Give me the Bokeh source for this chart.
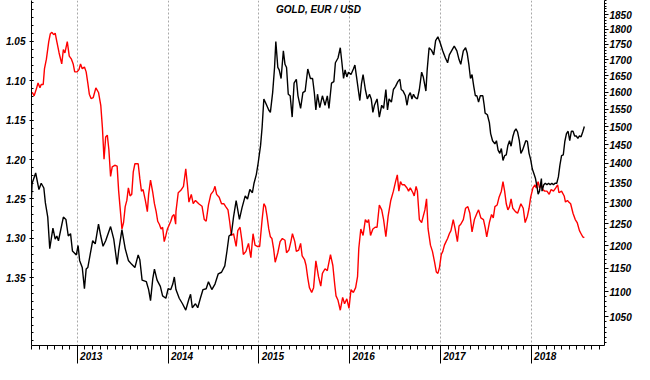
from bokeh.plotting import figure
from bokeh.models import Range1d, LinearAxis, LogScale, FixedTicker, PrintfTickFormatter, Label
from bokeh.embed import file_html
from bokeh.resources import INLINE

# EUR/USD (left axis, inverted) : (decimal year, rate)
eurusd = [
    (2012.487, 1.264), (2012.502, 1.230), (2012.541, 1.217), (2012.577, 1.238), (2012.602, 1.230),
    (2012.631, 1.236), (2012.648, 1.255), (2012.674, 1.273), (2012.696, 1.313), (2012.731, 1.287),
    (2012.756, 1.301), (2012.774, 1.297), (2012.792, 1.303), (2012.846, 1.273), (2012.874, 1.276),
    (2012.900, 1.297), (2012.925, 1.294), (2012.946, 1.316), (2012.989, 1.321), (2013.008, 1.309),
    (2013.025, 1.328), (2013.054, 1.337), (2013.078, 1.364), (2013.097, 1.339), (2013.115, 1.337),
    (2013.169, 1.303), (2013.197, 1.307), (2013.233, 1.282), (2013.258, 1.297), (2013.283, 1.310),
    (2013.312, 1.303), (2013.366, 1.285), (2013.401, 1.301), (2013.438, 1.333), (2013.455, 1.316),
    (2013.491, 1.289), (2013.527, 1.313), (2013.562, 1.328), (2013.599, 1.333), (2013.634, 1.337),
    (2013.670, 1.321), (2013.688, 1.327), (2013.713, 1.353), (2013.760, 1.355), (2013.785, 1.365),
    (2013.806, 1.379), (2013.831, 1.351), (2013.849, 1.339), (2013.878, 1.353), (2013.914, 1.361),
    (2013.939, 1.373), (2013.975, 1.376), (2014.000, 1.364), (2014.029, 1.365), (2014.051, 1.358),
    (2014.068, 1.349), (2014.086, 1.365), (2014.122, 1.376), (2014.158, 1.383), (2014.194, 1.391),
    (2014.229, 1.377), (2014.247, 1.371), (2014.266, 1.388), (2014.301, 1.383), (2014.326, 1.388),
    (2014.355, 1.376), (2014.384, 1.365), (2014.419, 1.364), (2014.444, 1.355), (2014.481, 1.365),
    (2014.516, 1.358), (2014.552, 1.345), (2014.588, 1.343), (2014.624, 1.335), (2014.648, 1.316),
    (2014.670, 1.297), (2014.696, 1.295), (2014.720, 1.273), (2014.749, 1.252), (2014.785, 1.276),
    (2014.814, 1.261), (2014.849, 1.246), (2014.874, 1.250), (2014.900, 1.238), (2014.928, 1.242),
    (2014.946, 1.230), (2014.971, 1.219), (2014.992, 1.204), (2015.018, 1.182), (2015.035, 1.159),
    (2015.054, 1.123), (2015.078, 1.129), (2015.108, 1.137), (2015.126, 1.140), (2015.151, 1.115),
    (2015.172, 1.083), (2015.186, 1.050), (2015.208, 1.083), (2015.223, 1.086), (2015.244, 1.097),
    (2015.269, 1.062), (2015.287, 1.079), (2015.304, 1.083), (2015.323, 1.117), (2015.344, 1.119),
    (2015.366, 1.146), (2015.387, 1.103), (2015.412, 1.098), (2015.430, 1.119), (2015.459, 1.135),
    (2015.484, 1.115), (2015.509, 1.113), (2015.538, 1.085), (2015.567, 1.097), (2015.591, 1.097),
    (2015.610, 1.115), (2015.627, 1.137), (2015.645, 1.117), (2015.670, 1.134), (2015.699, 1.119),
    (2015.728, 1.131), (2015.753, 1.119), (2015.771, 1.135), (2015.799, 1.103), (2015.825, 1.101),
    (2015.842, 1.077), (2015.871, 1.071), (2015.896, 1.058), (2015.914, 1.077), (2015.932, 1.097),
    (2015.949, 1.086), (2015.968, 1.095), (2015.986, 1.089), (2016.014, 1.092), (2016.040, 1.085),
    (2016.057, 1.080), (2016.075, 1.095), (2016.094, 1.111), (2016.111, 1.125), (2016.129, 1.104),
    (2016.147, 1.092), (2016.172, 1.111), (2016.194, 1.123), (2016.218, 1.117), (2016.237, 1.123),
    (2016.255, 1.140), (2016.272, 1.131), (2016.301, 1.123), (2016.326, 1.146), (2016.352, 1.131),
    (2016.373, 1.135), (2016.398, 1.111), (2016.416, 1.137), (2016.433, 1.123), (2016.459, 1.127),
    (2016.481, 1.111), (2016.505, 1.107), (2016.530, 1.101), (2016.552, 1.098), (2016.567, 1.111),
    (2016.588, 1.113), (2016.613, 1.119), (2016.631, 1.131), (2016.648, 1.119), (2016.667, 1.115),
    (2016.685, 1.123), (2016.702, 1.117), (2016.720, 1.121), (2016.745, 1.123), (2016.767, 1.111),
    (2016.792, 1.089), (2016.810, 1.095), (2016.839, 1.113), (2016.853, 1.086), (2016.874, 1.058),
    (2016.900, 1.061), (2016.925, 1.067), (2016.946, 1.049), (2016.971, 1.044), (2016.997, 1.052),
    (2017.025, 1.062), (2017.054, 1.071), (2017.078, 1.077), (2017.097, 1.067), (2017.126, 1.061),
    (2017.151, 1.056), (2017.180, 1.062), (2017.204, 1.073), (2017.223, 1.079), (2017.251, 1.062),
    (2017.276, 1.058), (2017.294, 1.065), (2017.312, 1.079), (2017.330, 1.097), (2017.347, 1.092),
    (2017.366, 1.107), (2017.384, 1.119), (2017.401, 1.119), (2017.419, 1.127), (2017.438, 1.119),
    (2017.466, 1.119), (2017.481, 1.131), (2017.491, 1.141), (2017.516, 1.143), (2017.538, 1.153),
    (2017.552, 1.167), (2017.573, 1.176), (2017.599, 1.180), (2017.616, 1.176), (2017.634, 1.188),
    (2017.653, 1.192), (2017.670, 1.186), (2017.688, 1.201), (2017.706, 1.195), (2017.724, 1.194),
    (2017.742, 1.182), (2017.760, 1.176), (2017.777, 1.183), (2017.796, 1.171), (2017.814, 1.164),
    (2017.831, 1.161), (2017.849, 1.165), (2017.868, 1.176), (2017.885, 1.192), (2017.903, 1.188),
    (2017.921, 1.182), (2017.939, 1.176), (2017.957, 1.177), (2017.975, 1.192), (2017.993, 1.200),
    (2018.011, 1.212), (2018.029, 1.218), (2018.046, 1.224), (2018.065, 1.236), (2018.075, 1.244),
    (2018.090, 1.240), (2018.100, 1.232), (2018.111, 1.224), (2018.118, 1.240), (2018.137, 1.232),
    (2018.154, 1.230), (2018.172, 1.232), (2018.190, 1.230), (2018.208, 1.232), (2018.226, 1.230),
    (2018.244, 1.232), (2018.261, 1.230), (2018.280, 1.230), (2018.298, 1.222), (2018.315, 1.207),
    (2018.333, 1.195), (2018.352, 1.194), (2018.369, 1.177), (2018.387, 1.167), (2018.405, 1.164),
    (2018.423, 1.176), (2018.441, 1.164), (2018.459, 1.164), (2018.477, 1.170), (2018.495, 1.170),
    (2018.513, 1.173), (2018.530, 1.170), (2018.548, 1.171), (2018.566, 1.165), (2018.584, 1.158),
]

# Gold in USD (right axis, log) : (decimal year, price)
gold = [
    (2012.487, 1594), (2012.505, 1599), (2012.524, 1589), (2012.552, 1613), (2012.567, 1628),
    (2012.588, 1613), (2012.602, 1623), (2012.624, 1623), (2012.638, 1672), (2012.659, 1702),
    (2012.685, 1759), (2012.702, 1785), (2012.720, 1790), (2012.739, 1782), (2012.756, 1787),
    (2012.774, 1759), (2012.799, 1722), (2012.828, 1687), (2012.846, 1733), (2012.863, 1722),
    (2012.889, 1759), (2012.911, 1712), (2012.935, 1702), (2012.954, 1687), (2012.971, 1662),
    (2012.997, 1662), (2013.018, 1669), (2013.035, 1687), (2013.054, 1672), (2013.078, 1677),
    (2013.097, 1662), (2013.115, 1628), (2013.132, 1594), (2013.151, 1581), (2013.175, 1584),
    (2013.204, 1613), (2013.233, 1599), (2013.258, 1561), (2013.276, 1497), (2013.294, 1411),
    (2013.312, 1471), (2013.330, 1476), (2013.347, 1437), (2013.366, 1366), (2013.384, 1391),
    (2013.412, 1395), (2013.438, 1393), (2013.455, 1329), (2013.473, 1283), (2013.491, 1238),
    (2013.509, 1253), (2013.527, 1291), (2013.545, 1306), (2013.562, 1337), (2013.581, 1317),
    (2013.599, 1321), (2013.616, 1378), (2013.634, 1399), (2013.670, 1399), (2013.688, 1361),
    (2013.706, 1329), (2013.724, 1333), (2013.749, 1306), (2013.771, 1279), (2013.785, 1321),
    (2013.806, 1357), (2013.831, 1325), (2013.849, 1298), (2013.868, 1279), (2013.885, 1256),
    (2013.903, 1249), (2013.922, 1238), (2013.939, 1242), (2013.957, 1209), (2013.975, 1223),
    (2013.992, 1238), (2014.029, 1256), (2014.046, 1268), (2014.065, 1272), (2014.083, 1249),
    (2014.086, 1279), (2014.111, 1325), (2014.140, 1331), (2014.169, 1341), (2014.194, 1386),
    (2014.212, 1345), (2014.229, 1302), (2014.255, 1321), (2014.276, 1298), (2014.301, 1306),
    (2014.337, 1298), (2014.373, 1292), (2014.398, 1260), (2014.419, 1256), (2014.444, 1295),
    (2014.470, 1321), (2014.498, 1329), (2014.516, 1341), (2014.534, 1321), (2014.562, 1314),
    (2014.588, 1298), (2014.613, 1298), (2014.634, 1291), (2014.659, 1283), (2014.677, 1256),
    (2014.696, 1223), (2014.720, 1227), (2014.749, 1198), (2014.767, 1234), (2014.792, 1242),
    (2014.814, 1209), (2014.828, 1180), (2014.857, 1187), (2014.885, 1205), (2014.911, 1173),
    (2014.935, 1227), (2014.957, 1201), (2014.982, 1198), (2015.008, 1198), (2015.035, 1260),
    (2015.054, 1298), (2015.072, 1291), (2015.089, 1268), (2015.108, 1238), (2015.126, 1220),
    (2015.143, 1216), (2015.161, 1194), (2015.179, 1163), (2015.208, 1184), (2015.233, 1209),
    (2015.258, 1216), (2015.287, 1212), (2015.304, 1184), (2015.330, 1190), (2015.352, 1209),
    (2015.369, 1227), (2015.395, 1209), (2015.412, 1187), (2015.438, 1190), (2015.459, 1205),
    (2015.476, 1177), (2015.502, 1169), (2015.519, 1156), (2015.538, 1129), (2015.556, 1109),
    (2015.581, 1099), (2015.602, 1109), (2015.627, 1166), (2015.656, 1132), (2015.681, 1112),
    (2015.699, 1139), (2015.728, 1149), (2015.753, 1145), (2015.788, 1180), (2015.814, 1156),
    (2015.835, 1115), (2015.849, 1092), (2015.871, 1083), (2015.896, 1063), (2015.922, 1089),
    (2015.943, 1076), (2015.968, 1086), (2015.992, 1067), (2016.014, 1105), (2016.040, 1099),
    (2016.065, 1109), (2016.086, 1132), (2016.100, 1194), (2016.122, 1238), (2016.147, 1223),
    (2016.172, 1260), (2016.194, 1253), (2016.208, 1260), (2016.229, 1223), (2016.255, 1238),
    (2016.280, 1242), (2016.301, 1242), (2016.326, 1295), (2016.352, 1283), (2016.373, 1260),
    (2016.398, 1220), (2016.423, 1268), (2016.452, 1306), (2016.481, 1329), (2016.505, 1353),
    (2016.524, 1370), (2016.541, 1329), (2016.559, 1353), (2016.577, 1345), (2016.602, 1345),
    (2016.631, 1337), (2016.648, 1329), (2016.667, 1337), (2016.696, 1325), (2016.710, 1317),
    (2016.731, 1341), (2016.745, 1329), (2016.767, 1260), (2016.792, 1253), (2016.810, 1268),
    (2016.828, 1283), (2016.846, 1310), (2016.863, 1238), (2016.889, 1201), (2016.911, 1187),
    (2016.935, 1163), (2016.954, 1142), (2016.971, 1139), (2016.989, 1152), (2017.008, 1180),
    (2017.025, 1187), (2017.043, 1201), (2017.061, 1209), (2017.078, 1216), (2017.097, 1227),
    (2017.115, 1234), (2017.140, 1260), (2017.161, 1238), (2017.186, 1209), (2017.204, 1245),
    (2017.223, 1249), (2017.251, 1260), (2017.276, 1287), (2017.301, 1291), (2017.323, 1275),
    (2017.347, 1231), (2017.373, 1260), (2017.401, 1275), (2017.419, 1283), (2017.444, 1264),
    (2017.473, 1260), (2017.491, 1242), (2017.509, 1220), (2017.538, 1253), (2017.562, 1272),
    (2017.581, 1264), (2017.599, 1291), (2017.624, 1295), (2017.645, 1314), (2017.670, 1329),
    (2017.688, 1353), (2017.706, 1329), (2017.724, 1298), (2017.742, 1283), (2017.760, 1291),
    (2017.777, 1310), (2017.796, 1287), (2017.825, 1279), (2017.849, 1275), (2017.868, 1287),
    (2017.885, 1298), (2017.911, 1287), (2017.932, 1253), (2017.957, 1268), (2017.975, 1287),
    (2017.993, 1314), (2018.018, 1337), (2018.040, 1345), (2018.054, 1337), (2018.075, 1353),
    (2018.090, 1337), (2018.111, 1345), (2018.126, 1333), (2018.147, 1329), (2018.172, 1329),
    (2018.197, 1321), (2018.218, 1333), (2018.244, 1329), (2018.269, 1337), (2018.290, 1345),
    (2018.304, 1325), (2018.333, 1329), (2018.362, 1317), (2018.376, 1302), (2018.398, 1306),
    (2018.412, 1302), (2018.433, 1298), (2018.459, 1275), (2018.484, 1260), (2018.505, 1253),
    (2018.530, 1234), (2018.548, 1227), (2018.566, 1220), (2018.584, 1218),
]

eur_dates = [d for d, _ in eurusd]
eur_vals = [v for _, v in eurusd]
gold_dates = [d for d, _ in gold]
gold_vals = [v for _, v in gold]

years = [2013, 2014, 2015, 2016, 2017, 2018]
eur_ticks = [1.05, 1.10, 1.15, 1.20, 1.25, 1.30, 1.35]
gold_ticks = [1050, 1100, 1150, 1200, 1250, 1300, 1350, 1400, 1450, 1500,
              1550, 1600, 1650, 1700, 1750, 1800, 1850]
title_text = "GOLD, EUR / USD"

FONT = "Liberation Sans"

p = figure(width=634, height=364, output_backend="svg", toolbar_location=None,
           x_range=Range1d(2012.495, 2018.806), y_range=Range1d(1.436, 0.998),
           min_border_left=31, min_border_right=20, min_border_top=0, min_border_bottom=18)
p.outline_line_color = None
p.background_fill_color = "white"
p.border_fill_color = "white"
p.extra_y_ranges = {"gold": Range1d(995, 1900)}
p.extra_y_scales = {"gold": LogScale()}

def style_axis(ax):
    ax.axis_line_color = "black"
    ax.major_tick_line_color = "black"
    ax.minor_tick_line_color = "black"
    ax.major_label_text_font = FONT
    ax.major_label_text_font_size = "10px"
    ax.major_label_text_font_style = "bold italic"
    ax.major_label_text_color = "black"

# bottom axis
xa = p.xaxis[0]
style_axis(xa)
months = [2012 + m / 12 for m in range(6, 12 * 6 + 10)]
xa.ticker = FixedTicker(ticks=years, minor_ticks=months)
xa.major_label_overrides = {y: "\u00a0" * 10 + str(y) for y in years}
xa.major_tick_out = 18
xa.major_tick_in = 0
xa.minor_tick_out = 4
xa.minor_tick_in = 0
xa.major_label_standoff = -13

# left axis
ya = p.yaxis[0]
style_axis(ya)
ya.ticker = FixedTicker(ticks=eur_ticks, minor_ticks=[round(1.00 + 0.01 * i, 2) for i in range(44)])
ya.formatter = PrintfTickFormatter(format="%.2f")
ya.major_tick_in = 2
ya.major_tick_out = 2
ya.minor_tick_in = 2
ya.minor_tick_out = 0
ya.major_label_standoff = 4

# right axis (gold, log)
ra = LinearAxis(y_range_name="gold")
style_axis(ra)
ra.ticker = FixedTicker(ticks=gold_ticks, minor_ticks=list(range(1000, 1901, 10)))
ra.formatter = PrintfTickFormatter(format="%d")
ra.major_tick_out = 4
ra.major_tick_in = 0
ra.minor_tick_out = 2
ra.minor_tick_in = 0
ra.major_label_standoff = 1
p.add_layout(ra, "right")

# grids
p.ygrid.visible = False
p.xgrid.ticker = FixedTicker(ticks=years)
p.xgrid.grid_line_color = "#a8a8a8"
p.xgrid.grid_line_dash = "2 2"
p.xgrid.grid_line_width = 1

# lines
p.line(gold_dates, gold_vals, color="#ff0000", line_width=1.4, y_range_name="gold")
p.line(eur_dates, eur_vals, color="black", line_width=1.4)

p.add_layout(Label(x=2015.656, y=1.010, text=title_text, text_font=FONT,
                   text_font_size="10px", text_font_style="bold italic",
                   text_align="center", text_baseline="middle", text_color="black"))

open("out.html", "w").write(file_html(p, INLINE))
